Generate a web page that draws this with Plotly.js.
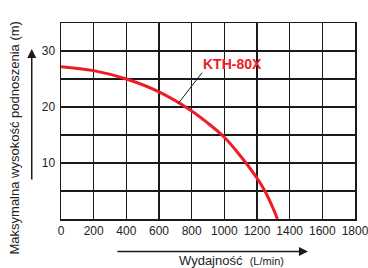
<!DOCTYPE html>
<html><head><meta charset="utf-8">
<script src="https://cdn.plot.ly/plotly-3.0.1.min.js"></script>
<style>html,body{margin:0;padding:0;background:#fff}#c{width:368px;height:268px}</style>
</head><body><div id="c"></div>
<script>
// Pump curve data (flow L/min, head m)
const flow = [0, 200, 400, 600, 800, 900, 1000, 1100, 1200, 1250, 1300, 1325];
const head = [27.2, 26.5, 25.0, 22.7, 19.3, 17.1, 14.6, 11.2, 7.3, 4.9, 1.8, 0];
const seriesName = "KTH-80X";
const xTicks = [0, 200, 400, 600, 800, 1000, 1200, 1400, 1600, 1800];
const yTicks = [0, 5, 10, 15, 20, 25, 30, 35];
const yTickText = ["", "", "10", "", "20", "", "30", ""];
const xTitle = "Wydajność";
const xUnit = "(L/min)";
const yTitle = "Maksymalna wysokość podnoszenia (m)";

const red = "#ee1c25";
const ink = "#1a1a1a";
const font = {family: "Liberation Sans, Arial, sans-serif", size: 12, color: "#222"};

const trace = {x: flow, y: head, mode: "lines", name: seriesName,
  line: {color: red, width: 3, shape: "spline", smoothing: 1}, hoverinfo: "skip"};

const layout = {
  width: 368, height: 268,
  margin: {l: 61, r: 13, t: 23, b: 49},
  paper_bgcolor: "#fff", plot_bgcolor: "#fff",
  showlegend: false, font: font,
  xaxis: {range: [0, 1800], tickvals: xTicks, ticktext: xTicks.map(String),
    showgrid: true, gridcolor: ink, gridwidth: 1.5, zeroline: false,
    showline: true, linecolor: ink, linewidth: 1.5, mirror: true,
    ticks: "", tickfont: font, ticklabeloverflow: "allow", automargin: false, fixedrange: true},
  yaxis: {range: [0, 35], tickvals: yTicks, ticktext: yTickText,
    showgrid: true, gridcolor: ink, gridwidth: 1.5, zeroline: false,
    showline: true, linecolor: ink, linewidth: 1.5, mirror: true,
    ticks: "", tickfont: font, ticklabelstandoff: 2, automargin: false, fixedrange: true},
  annotations: [
    {x: 717, y: 20.6, xref: "x", yref: "y", text: "<b>" + seriesName + "</b>",
     showarrow: true, ax: 24, ay: -31, axref: "pixel", ayref: "pixel",
     xanchor: "left", yanchor: "bottom", arrowhead: 0, arrowwidth: 1, arrowcolor: ink,
     font: {family: "Liberation Sans, Arial, sans-serif", size: 14, color: red},
     bgcolor: "rgba(0,0,0,0)", borderpad: 0},
    // y title
    {xref: "paper", yref: "paper", x: -0.157, y: 0.415, text: yTitle, textangle: -90,
     showarrow: false, xanchor: "center", yanchor: "middle",
     font: {family: "Liberation Sans, Arial, sans-serif", size: 13, color: "#222"}},
    // x title
    {xref: "paper", yref: "paper", x: 0.58, y: -0.165, text: xTitle + "  <span style='font-size:11px'>" + xUnit + "</span>",
     showarrow: false, xanchor: "center", yanchor: "top",
     font: {family: "Liberation Sans, Arial, sans-serif", size: 13, color: "#222"}},
    // y arrow
    {xref: "paper", yref: "paper", x: -0.0995, y: 0.867, text: "", showarrow: true,
     ax: 0, ay: 132, arrowhead: 2, arrowsize: 1.2, arrowwidth: 1.5, arrowcolor: ink, standoff: 0},
    // x arrow
    {xref: "paper", yref: "paper", x: 0.840, y: -0.166, text: "", showarrow: true,
     ax: -192, ay: 0, arrowhead: 2, arrowsize: 1.2, arrowwidth: 1.5, arrowcolor: ink, standoff: 0}
  ]
};
Plotly.newPlot("c", [trace], layout, {staticPlot: true, displayModeBar: false});
</script></body></html>
